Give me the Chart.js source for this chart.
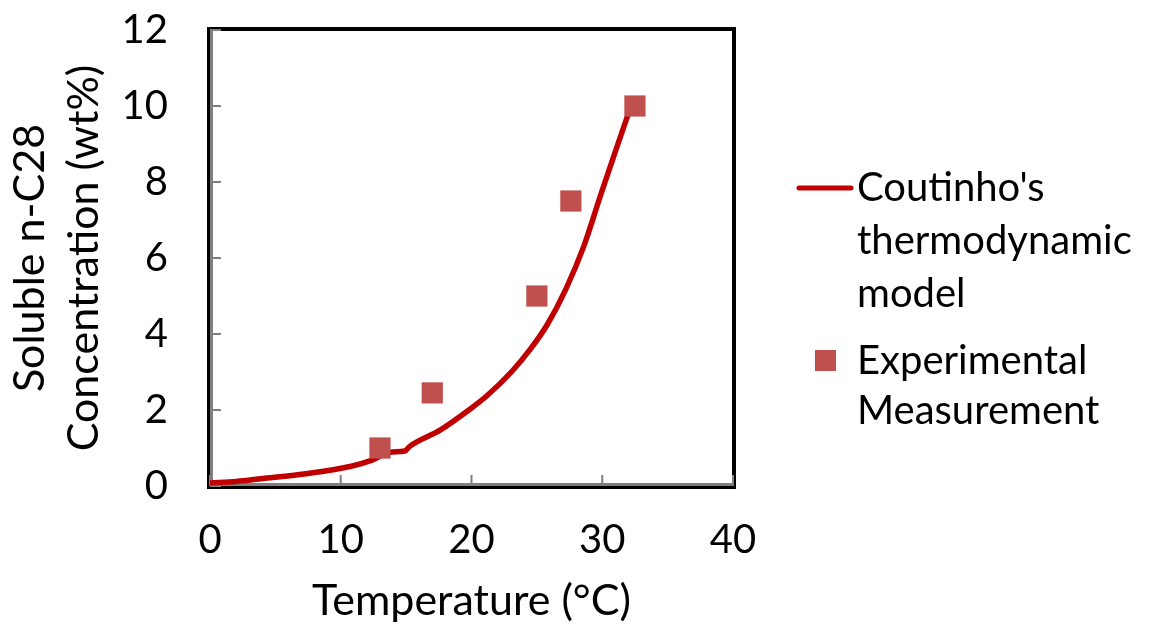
<!DOCTYPE html>
<html>
<head>
<meta charset="utf-8">
<title>n-C28 solubility</title>
<script src="https://cdn.jsdelivr.net/npm/chart.js@4.4.1/dist/chart.umd.min.js"></script>
<style>
  html, body { margin: 0; padding: 0; background: #fff; }
  #wrap { width: 1149px; height: 626px; }
</style>
</head>
<body>
<div id="wrap"><canvas id="solubilityChart" width="1149" height="626"></canvas></div>
<script>
// Model curve (Coutinho)
const modelTemp = [0, 2, 3.9, 7.5, 10.8, 12.4, 13.8, 14.9, 15.3, 17.6, 19.8, 21.2, 23.1, 24.5, 25.8, 27.2, 28.6, 29.9, 31.0, 32.1];
const modelConc = [0.08, 0.12, 0.19, 0.33, 0.52, 0.68, 0.89, 0.92, 1.05, 1.47, 2.0, 2.38, 3.02, 3.6, 4.25, 5.17, 6.32, 7.68, 8.8, 9.9];

// Measured points
const expTemp = [13, 17, 25, 27.6, 32.5];
const expConc = [1, 2.45, 5, 7.5, 10];

const xTicks = [0, 10, 20, 30, 40];
const yTicks = [0, 2, 4, 6, 8, 10, 12];

const legendLabels = [
  ["Coutinho's", 'thermodynamic', 'model'],
  ['Experimental', 'Measurement']
];

const FONT = 'Lato, "Open Sans", sans-serif';
const lineRed = '#c00000';
const markRed = '#c0504d';

function toPoints(xs, ys) {
  return xs.map((x, i) => ({ x: x, y: ys[i] }));
}

// keep the plot box fixed: no extra room for overhanging end labels
function noEdgePadding(s) {
  s.paddingTop = 0;
  s.paddingBottom = 0;
  s.paddingLeft = 0;
  s.paddingRight = 0;
}

// frame + inward tick marks, drawn under the data
const framePlugin = {
  id: 'frame',
  beforeDatasetsDraw(chart) {
    const { ctx, chartArea: a, scales } = chart;
    ctx.save();
    ctx.strokeStyle = '#000';
    ctx.lineWidth = 4;
    ctx.strokeRect(a.left - 1, a.top - 1, a.right - a.left + 2, a.bottom - a.top + 2);

    ctx.strokeStyle = '#7f7f7f';
    ctx.lineWidth = 3;
    ctx.beginPath();
    ctx.moveTo(a.left + 1.5, a.top + 1);
    ctx.lineTo(a.left + 1.5, a.bottom - 1.5);
    ctx.lineTo(a.right - 1, a.bottom - 1.5);
    ctx.stroke();

    ctx.lineWidth = 2;
    ctx.beginPath();
    yTicks.forEach(v => {
      const y = scales.y.getPixelForValue(v);
      ctx.moveTo(a.left, y);
      ctx.lineTo(a.left + 11, y);
    });
    xTicks.forEach(v => {
      const x = scales.x.getPixelForValue(v);
      ctx.moveTo(x, a.bottom);
      ctx.lineTo(x, a.bottom - 11);
    });
    ctx.stroke();
    ctx.restore();
  }
};

// legend on the right, with wrapped labels
const sideLegend = {
  id: 'sideLegend',
  afterDraw(chart) {
    const ctx = chart.ctx;
    ctx.save();
    ctx.font = '40px ' + FONT;
    ctx.fillStyle = '#000';
    ctx.textBaseline = 'middle';
    ctx.textAlign = 'left';

    ctx.strokeStyle = lineRed;
    ctx.lineWidth = 5;
    ctx.lineCap = 'round';
    ctx.beginPath();
    ctx.moveTo(799, 188);
    ctx.lineTo(851, 188);
    ctx.stroke();
    legendLabels[0].forEach((t, i) => ctx.fillText(t, 857, 188 + i * 53));

    ctx.fillStyle = markRed;
    ctx.fillRect(815, 350, 21, 21);
    ctx.fillStyle = '#000';
    legendLabels[1].forEach((t, i) => ctx.fillText(t, 857, 361 + i * 50));
    ctx.restore();
  }
};

const ctx = document.getElementById('solubilityChart').getContext('2d');
const solubilityChart = new Chart(ctx, {
  type: 'scatter',
  data: {
    datasets: [
      {
        label: "Coutinho's thermodynamic model",
        data: toPoints(modelTemp, modelConc),
        showLine: true,
        borderColor: lineRed,
        borderWidth: 5.5,
        pointRadius: 0,
        cubicInterpolationMode: 'monotone',
        order: 2
      },
      {
        label: 'Experimental Measurement',
        data: toPoints(expTemp, expConc),
        pointStyle: 'rect',
        pointRadius: 15,
        backgroundColor: markRed,
        borderWidth: 0,
        order: 1
      }
    ]
  },
  options: {
    responsive: false,
    animation: false,
    layout: { padding: { top: 30, right: 416, left: 0, bottom: 0 } },
    plugins: {
      legend: { display: false },
      tooltip: { enabled: false }
    },
    scales: {
      x: {
        type: 'linear',
        min: 0,
        max: 40,
        afterFit: s => { s.height = 140; noEdgePadding(s); },
        afterBuildTicks: s => { s.ticks = xTicks.map(v => ({ value: v })); },
        grid: { display: false, drawTicks: false },
        border: { display: false },
        ticks: { color: '#000', padding: 30, font: { family: FONT, size: 40 } },
        title: {
          display: true,
          text: 'Temperature (°C)',
          color: '#000',
          padding: 0,
          font: { family: FONT, size: 43, lineHeight: 1.15 }
        }
      },
      y: {
        type: 'linear',
        min: 0,
        max: 12,
        afterFit: s => { s.width = 210; noEdgePadding(s); },
        afterBuildTicks: s => { s.ticks = yTicks.map(v => ({ value: v })); },
        grid: { display: false, drawTicks: false },
        border: { display: false },
        ticks: { color: '#000', padding: 42, font: { family: FONT, size: 40 } },
        title: {
          display: true,
          text: ['Soluble n-C28', 'Concentration (wt%)'],
          color: '#000',
          padding: { top: 3 },
          font: { family: FONT, size: 43, lineHeight: 1.25 }
        }
      }
    }
  },
  plugins: [framePlugin, sideLegend]
});
</script>
</body>
</html>
